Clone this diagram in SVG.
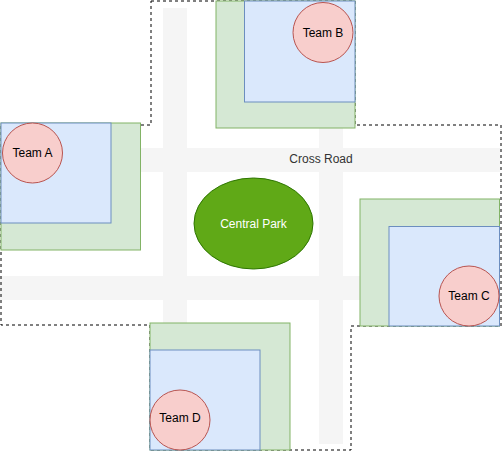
<svg xmlns="http://www.w3.org/2000/svg" width="502" height="451" viewBox="0 0 502 451">
<style>
.road{fill:#f5f5f5;stroke:none}
.zone{fill:#d5e8d4;stroke:#82b366;stroke-width:1}
.area{fill:#dae8fc;stroke:#6c8ebf;stroke-width:1}
.team{fill:#f8cecc;stroke:#b85450;stroke-width:1}
.lbl{font-family:"Liberation Sans",Arial,sans-serif;font-size:12px;text-anchor:middle;dominant-baseline:central}
.outline{fill:none;stroke:#000;stroke-width:1;stroke-dasharray:3 3}
</style>
<rect width="502" height="451" fill="#fff"/>
<g id="roads">
<rect class="road" x="163" y="8" width="24" height="436"/>
<rect class="road" x="319" y="8" width="24" height="436"/>
<rect class="road" x="1" y="148" width="499" height="24"/>
<rect class="road" x="0" y="276" width="500" height="24"/>
<text class="lbl" x="321" y="159" fill="#333333">Cross Road</text>
</g>
<g id="boundary">
<path class="outline" d="M151,1 L355,1 L355,125 L501,125 L501,326 L351,326 L351,450 L150,450 L150,325 L1,325 L1,125 L151,125 Z"/>
</g>
<g id="park">
<ellipse cx="253.5" cy="223.5" rx="59.5" ry="45.5" fill="#60a917" stroke="#2d7600"/>
<text class="lbl" x="253.5" y="223.5" fill="#ffffff">Central Park</text>
</g>
<g id="team-a">
<rect class="zone" x="1" y="123" width="139.5" height="127"/>
<rect class="area" x="1" y="123" width="110" height="100"/>
<circle class="team" cx="32.5" cy="153" r="30"/>
<text class="lbl" x="32.5" y="153">Team A</text>
</g>
<g id="team-b">
<rect class="zone" x="216" y="1" width="139" height="127"/>
<rect class="area" x="244.5" y="1" width="110.5" height="101"/>
<circle class="team" cx="323" cy="32.5" r="30"/>
<text class="lbl" x="323" y="32.5">Team B</text>
</g>
<g id="team-c">
<rect class="zone" x="360" y="199" width="139.5" height="127"/>
<rect class="area" x="389" y="226.5" width="110.5" height="99.5"/>
<circle class="team" cx="469" cy="296" r="30"/>
<text class="lbl" x="469" y="296">Team C</text>
</g>
<g id="team-d">
<rect class="zone" x="150" y="323" width="140" height="127"/>
<rect class="area" x="150" y="350" width="110" height="100"/>
<circle class="team" cx="180" cy="420" r="30"/>
<text class="lbl" x="180" y="418">Team D</text>
</g>
</svg>
